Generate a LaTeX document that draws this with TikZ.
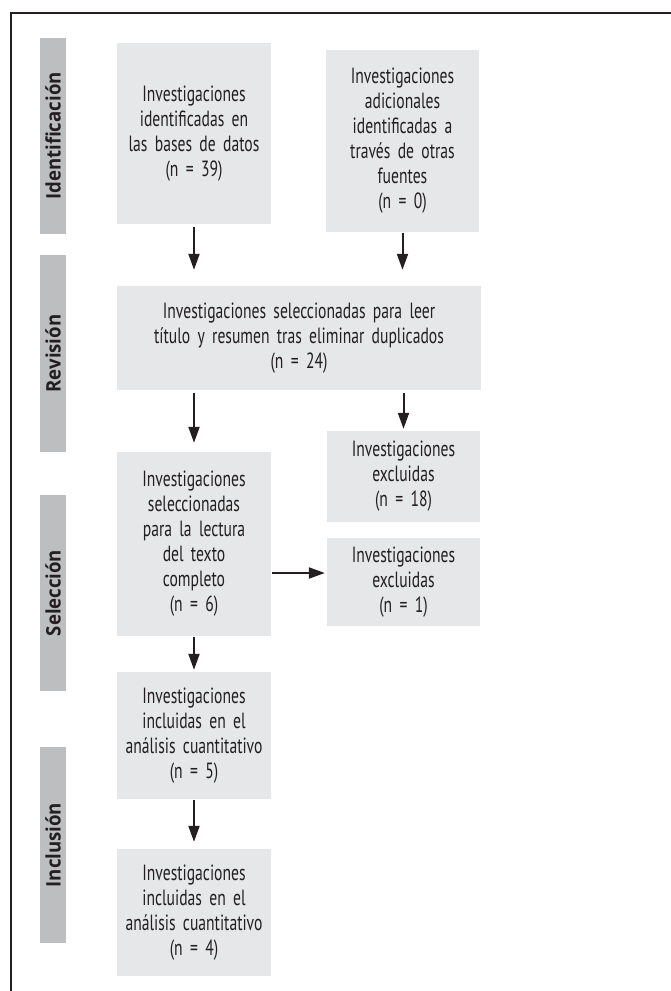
\documentclass[tikz,border=0pt]{standalone}
\usepackage{fontspec}
\setmainfont{PT Sans}
\newfontfamily\boxfont[FakeStretch=0.71,WordSpace=0.85]{PT Sans}
\newfontfamily\sidefont[FakeStretch=0.93]{Open Sans}
\usetikzlibrary{arrows.meta}
\definecolor{ink}{HTML}{231F20}
\definecolor{boxgray}{HTML}{E6E7E8}
\definecolor{sidegray}{HTML}{BCBEC0}
\tikzset{
  box/.style={fill=boxgray, inner sep=0pt, align=center, text=ink,
    font=\boxfont\fontsize{22}{25}\selectfont},
  side/.style={fill=sidegray, inner sep=0pt, rotate=90, text=ink,
    font=\sidefont\bfseries\fontsize{20}{24}\selectfont},
  arr/.style={draw=ink, line width=2pt, -{Triangle[length=16pt,width=11pt]}},
}
\begin{document}
\begin{tikzpicture}[x=1pt,y=-1pt]
\useasboundingbox (0,0) rectangle (671,991);
\draw[ink, line width=2pt] (672,13) -- (11,13) -- (11,992);
% side labels
\node[side, minimum width=196pt, minimum height=26pt] (sid) at (53,136) {Identificación};
\node[side, minimum width=197pt, minimum height=26pt] (srev) at (53,353.5) {Revisión};
\node[side, minimum width=196pt, minimum height=26pt] (ssel) at (53,593) {Selección};
\node[side, minimum width=196pt, minimum height=26pt] (sinc) at (53,845) {Inclusión};
% boxes
\node[box, minimum width=154pt, minimum height=181pt, text width=154pt] (b1) at (194,133.5)
  {Investigaciones\\identificadas en\\las bases de datos\\(n = 39)};
\node[box, minimum width=153pt, minimum height=182pt, text width=153pt] (b2) at (402.5,141)
  {Investigaciones\\adicionales\\identificadas a\\través de otras\\fuentes\\(n = 0)};
\node[box, minimum width=364pt, minimum height=104pt, text width=364pt] (b3) at (299,338)
  {Investigaciones seleccionadas para leer\\título y resumen tras eliminar duplicados\\(n = 24)};
\node[box, minimum width=153pt, minimum height=91pt, text width=153pt] (b4) at (403.5,476.5)
  {Investigaciones\\excluidas\\(n = 18)};
\node[box, minimum width=154pt, minimum height=184pt, text width=154pt] (b5) at (194,544)
  {Investigaciones\\seleccionadas\\para la lectura\\del texto\\completo\\(n = 6)};
\node[box, minimum width=153pt, minimum height=88pt, text width=153pt] (b6) at (403.5,582)
  {Investigaciones\\excluidas\\(n = 1)};
\node[box, minimum width=154pt, minimum height=127pt, text width=154pt] (b7) at (194,735.5)
  {Investigaciones\\incluidas en el\\análisis cuantitativo\\(n = 5)};
\node[box, minimum width=154pt, minimum height=127pt, text width=154pt] (b8) at (194,912.5)
  {Investigaciones\\incluidas en el\\análisis cuantitativo\\(n = 4)};
% arrows
\draw[arr, shorten <=3pt, shorten >=16pt] (b1.south) -- (b1.south |- b3.north);
\draw[arr, shorten <=1pt, shorten >=16pt] (b2.south) -- (b2.south |- b3.north);
\draw[arr, shorten <=3pt, shorten >=9pt] (b5.north |- b3.south) -- (b5.north);
\draw[arr, shorten <=3pt, shorten >=2pt] (b4.north |- b3.south) -- (b4.north);
\draw[arr, shorten <=1pt, shorten >=2pt] ([yshift=9pt]b6.west -| b5.east) -- ([yshift=9pt]b6.west);
\draw[arr, shorten <=1pt, shorten >=2pt] (b5.south) -- (b7.north);
\draw[arr, shorten <=1pt, shorten >=7pt] (b7.south) -- (b8.north);
\end{tikzpicture}
\end{document}
